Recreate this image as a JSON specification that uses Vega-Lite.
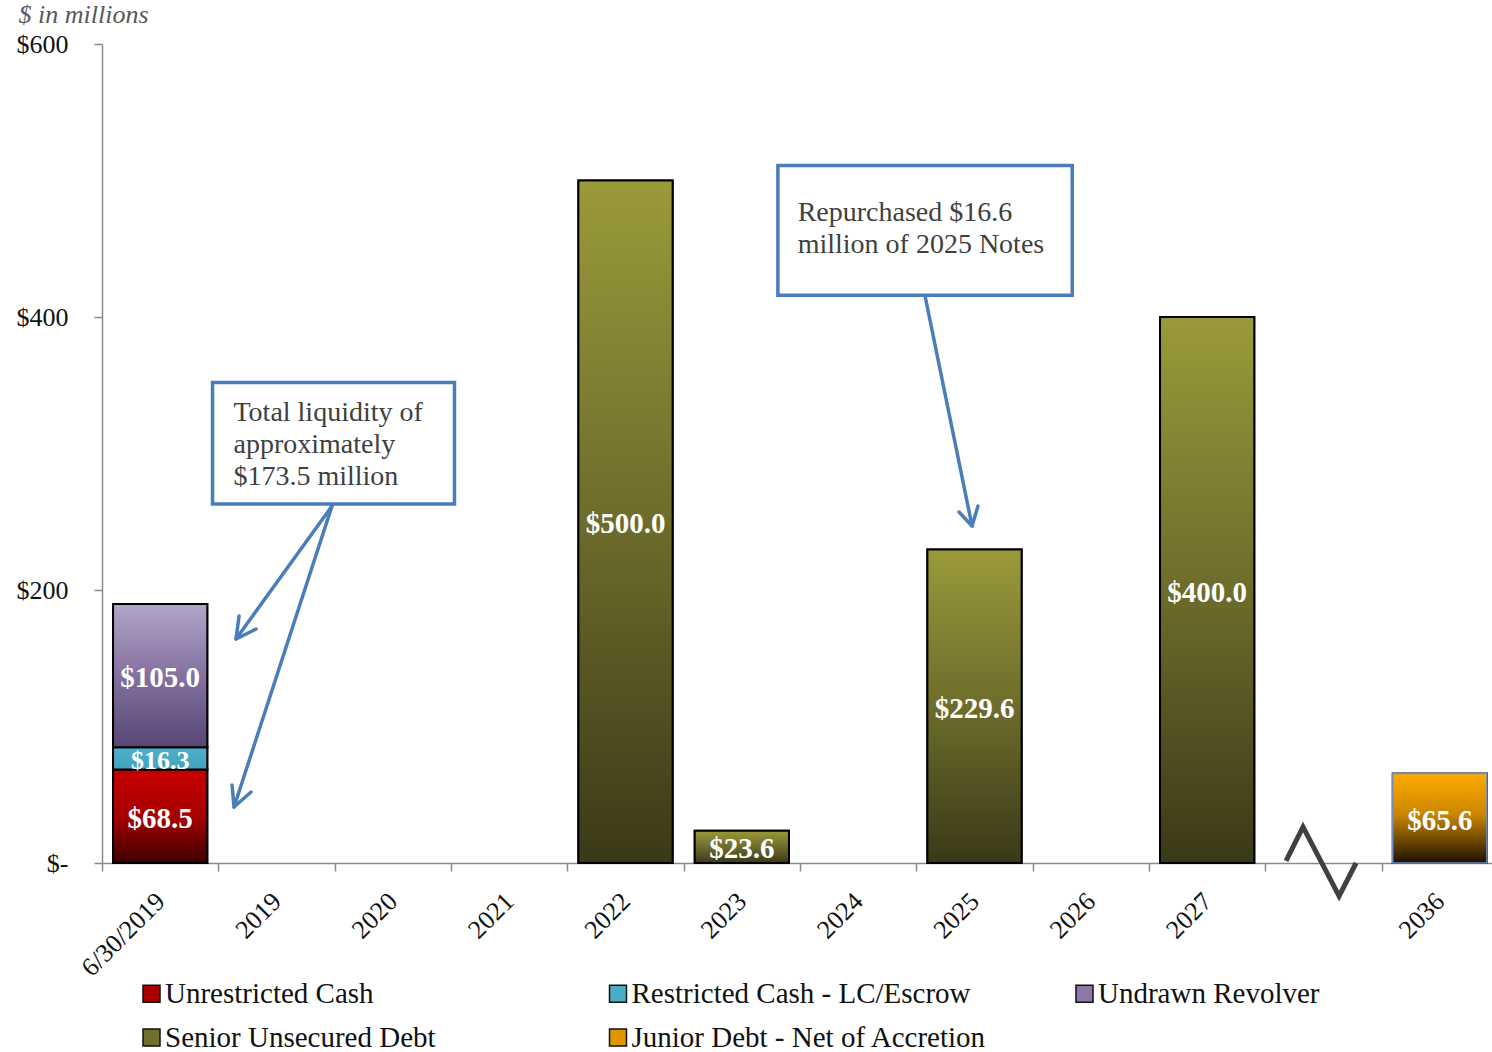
{
  "$schema": "https://vega.github.io/schema/vega-lite/v6.json",
  "width": 1390,
  "height": 819,
  "autosize": {"type": "none"},
  "padding": {"left": 102, "top": 44, "right": 0, "bottom": 189},
  "background": "white",
  "config": {
    "view": {"stroke": null},
    "font": "Liberation Serif"
  },
  "datasets": {
    "debt": [
      {"cat": "6/30/2019", "series": "Unrestricted Cash", "value": 68.5},
      {"cat": "6/30/2019", "series": "Restricted Cash - LC/Escrow", "value": 16.3},
      {"cat": "6/30/2019", "series": "Undrawn Revolver", "value": 105.0},
      {"cat": "2022", "series": "Senior Unsecured Debt", "value": 500.0},
      {"cat": "2023", "series": "Senior Unsecured Debt", "value": 23.6},
      {"cat": "2025", "series": "Senior Unsecured Debt", "value": 229.6},
      {"cat": "2027", "series": "Senior Unsecured Debt", "value": 400.0},
      {"cat": "2036", "series": "Junior Debt - Net of Accretion", "value": 65.6}
    ],
    "boxes": [
      {"u0": 0.95, "u1": 3.03, "v0": 263, "v1": 352},
      {"u0": 5.81, "u1": 8.34, "v0": 416, "v1": 511}
    ],
    "notes": [
      {"u": 1.13, "v": 324, "txt": "Total liquidity of\napproximately\n$173.5 million"},
      {"u": 5.98, "v": 470, "txt": "Repurchased $16.6\nmillion of 2025 Notes"}
    ],
    "arrows": [
      {"path": "a1", "seq": 0, "u": 1.977, "v": 261.5},
      {"path": "a1", "seq": 1, "u": 1.152, "v": 164.1},
      {"path": "h1", "seq": 0, "u": 1.178, "v": 181.0},
      {"path": "h1", "seq": 1, "u": 1.152, "v": 164.1},
      {"path": "h1", "seq": 2, "u": 1.324, "v": 171.4},
      {"path": "a2", "seq": 0, "u": 1.977, "v": 261.5},
      {"path": "a2", "seq": 1, "u": 1.135, "v": 41.0},
      {"path": "h2", "seq": 0, "u": 1.118, "v": 57.1},
      {"path": "h2", "seq": 1, "u": 1.135, "v": 41.0},
      {"path": "h2", "seq": 2, "u": 1.281, "v": 52.0},
      {"path": "a3", "seq": 0, "u": 7.075, "v": 415.4},
      {"path": "a3", "seq": 1, "u": 7.479, "v": 246.9},
      {"path": "h3", "seq": 0, "u": 7.367, "v": 257.1},
      {"path": "h3", "seq": 1, "u": 7.479, "v": 246.9},
      {"path": "h3", "seq": 2, "u": 7.530, "v": 261.5}
    ],
    "breakmark": [
      {"seq": 0, "u": 10.178, "v": 1.5},
      {"seq": 1, "u": 10.324, "v": 26.4},
      {"seq": 2, "u": 10.634, "v": -24.2},
      {"seq": 3, "u": 10.780, "v": 0}
    ]
  },
  "layer": [
    {
      "data": {"name": "debt"},
      "transform": [
        {"calculate": "indexof(['Unrestricted Cash','Restricted Cash - LC/Escrow','Undrawn Revolver','Senior Unsecured Debt','Junior Debt - Net of Accretion'], datum.series)", "as": "k"},
        {"stack": "value", "groupby": ["cat"], "sort": [{"field": "k", "order": "ascending"}], "as": ["v0", "v1"]}
      ],
      "mark": {"type": "bar", "stroke": "black", "strokeWidth": 2},
      "encoding": {
        "x": {
          "field": "cat",
          "type": "nominal",
          "sort": null,
          "scale": {
            "domain": ["6/30/2019", "2019", "2020", "2021", "2022", "2023", "2024", "2025", "2026", "2027", " ", "2036"],
            "range": [0, 1396],
            "paddingInner": 0.19,
            "paddingOuter": 0.095
          },
          "axis": {
            "title": null,
            "bandPosition": 0,
            "tickOffset": -11.05,
            "labelOffset": 11.05,
            "labelAngle": -45,
            "labelAlign": "right",
            "labelBaseline": "middle",
            "labelFont": "Liberation Serif",
            "labelFontSize": 26,
            "labelColor": "#111111",
            "labelPadding": 26,
            "tickSize": 8,
            "tickWidth": 1.5,
            "tickColor": "#8a8a8a",
            "domainColor": "#8a8a8a",
            "domainWidth": 1.5,
            "grid": false
          }
        },
        "y": {
          "field": "v1",
          "type": "quantitative",
          "scale": {"domain": [0, 600], "nice": false},
          "axis": {
            "values": [0, 200, 400, 600],
            "labelExpr": "datum.value == 0 ? '$-' : '$' + datum.value",
            "title": "$ in millions",
            "titleAngle": 0,
            "titleAlign": "left",
            "titleBaseline": "alphabetic",
            "titleX": -84,
            "titleY": -22,
            "titleFont": "Liberation Serif",
            "titleFontStyle": "italic",
            "titleFontWeight": "normal",
            "titleFontSize": 26,
            "titleColor": "#595959",
            "labelFont": "Liberation Serif",
            "labelFontSize": 26,
            "labelColor": "#111111",
            "labelPadding": 26,
            "tickSize": 8,
            "tickWidth": 1.5,
            "tickColor": "#8a8a8a",
            "domainColor": "#8a8a8a",
            "domainWidth": 1.5,
            "grid": false
          }
        },
        "y2": {"field": "v0"},
        "color": {
          "field": "series",
          "type": "nominal",
          "scale": {
            "domain": ["Unrestricted Cash", "Restricted Cash - LC/Escrow", "Undrawn Revolver", "Senior Unsecured Debt", "Junior Debt - Net of Accretion"],
            "range": ["#a80000", "#4bacc6", "#8a78a8", "#70702c", "#e09400"]
          },
          "legend": {
            "title": null,
            "orient": "none",
            "direction": "horizontal",
            "legendX": 35,
            "legendY": 935,
            "columns": 3,
            "gridAlign": "all",
            "columnPadding": 82.5,
            "rowPadding": 14,
            "symbolType": "square",
            "symbolSize": 289,
            "symbolStrokeColor": "#111111",
            "symbolStrokeWidth": 1.5,
            "symbolOpacity": 1,
            "labelFont": "Liberation Serif",
            "labelFontSize": 29,
            "labelColor": "#111111",
            "labelOffset": -1,
            "labelLimit": 600
          }
        }
      }
    },
    {
      "data": {"name": "debt"},
      "transform": [
        {"calculate": "indexof(['Unrestricted Cash','Restricted Cash - LC/Escrow','Undrawn Revolver','Senior Unsecured Debt','Junior Debt - Net of Accretion'], datum.series)", "as": "k"},
        {"stack": "value", "groupby": ["cat"], "sort": [{"field": "k", "order": "ascending"}], "as": ["v0", "v1"]}
      ],
      "mark": {"type": "bar"},
      "encoding": {
        "x": {
          "field": "cat",
          "type": "nominal",
          "sort": null,
          "scale": {
            "domain": ["6/30/2019", "2019", "2020", "2021", "2022", "2023", "2024", "2025", "2026", "2027", " ", "2036"],
            "range": [0, 1396],
            "paddingInner": 0.19,
            "paddingOuter": 0.095
          },
          "axis": null
        },
        "y": {"field": "v1", "type": "quantitative", "scale": {"domain": [0, 600], "nice": false}},
        "y2": {"field": "v0"},
        "fill": {
          "condition": [
            {"test": "datum.series === 'Unrestricted Cash'", "value": {"gradient": "linear", "x1": 0, "y1": 0, "x2": 0, "y2": 1, "stops": [{"offset": 0, "color": "#c60000"}, {"offset": 0.5, "color": "#a80000"}, {"offset": 1, "color": "#3c0000"}]}},
            {"test": "datum.series === 'Restricted Cash - LC/Escrow'", "value": {"gradient": "linear", "x1": 0, "y1": 0, "x2": 0, "y2": 1, "stops": [{"offset": 0, "color": "#4db0ca"}, {"offset": 1, "color": "#43a3bd"}]}},
            {"test": "datum.series === 'Undrawn Revolver'", "value": {"gradient": "linear", "x1": 0, "y1": 0, "x2": 0, "y2": 1, "stops": [{"offset": 0, "color": "#b4a4ca"}, {"offset": 0.5, "color": "#84719f"}, {"offset": 1, "color": "#584676"}]}},
            {"test": "datum.series === 'Senior Unsecured Debt'", "value": {"gradient": "linear", "x1": 0, "y1": 0, "x2": 0, "y2": 1, "stops": [{"offset": 0, "color": "#9a9a3a"}, {"offset": 0.5, "color": "#6d6c2c"}, {"offset": 1, "color": "#3a3917"}]}},
            {"test": "datum.series === 'Junior Debt - Net of Accretion'", "value": {"gradient": "linear", "x1": 0, "y1": 0, "x2": 0, "y2": 1, "stops": [{"offset": 0, "color": "#ffab00"}, {"offset": 0.45, "color": "#cc8700"}, {"offset": 1, "color": "#1e1100"}]}}
          ],
          "value": "#888888"
        },
        "stroke": {
          "condition": {"test": "datum.series === 'Junior Debt - Net of Accretion'", "value": "#6f8fc4"},
          "value": "#000000"
        },
        "strokeWidth": {
          "condition": {"test": "datum.series === 'Junior Debt - Net of Accretion'", "value": 1.5},
          "value": 2
        }
      }
    },
    {
      "data": {"name": "debt"},
      "transform": [
        {"calculate": "indexof(['Unrestricted Cash','Restricted Cash - LC/Escrow','Undrawn Revolver','Senior Unsecured Debt','Junior Debt - Net of Accretion'], datum.series)", "as": "k"},
        {"stack": "value", "groupby": ["cat"], "sort": [{"field": "k", "order": "ascending"}], "as": ["v0", "v1"]},
        {"calculate": "(datum.v0 + datum.v1) / 2", "as": "vmid"}
      ],
      "mark": {"type": "text", "color": "white", "fontWeight": "bold", "font": "Liberation Serif", "baseline": "middle", "align": "center", "dy": 2.5},
      "encoding": {
        "x": {
          "field": "cat",
          "type": "nominal",
          "sort": null,
          "scale": {
            "domain": ["6/30/2019", "2019", "2020", "2021", "2022", "2023", "2024", "2025", "2026", "2027", " ", "2036"],
            "range": [0, 1396],
            "paddingInner": 0.19,
            "paddingOuter": 0.095
          },
          "axis": null
        },
        "y": {"field": "vmid", "type": "quantitative", "scale": {"domain": [0, 600], "nice": false}},
        "text": {"field": "value", "type": "quantitative", "format": "$.1f"},
        "size": {
          "condition": {"test": "datum.value < 20", "value": 26},
          "value": 29
        }
      }
    },
    {
      "data": {"name": "breakmark"},
      "mark": {"type": "line", "stroke": "#404040", "strokeWidth": 5, "strokeJoin": "miter"},
      "encoding": {
        "x": {"field": "u", "type": "quantitative", "scale": {"domain": [0, 12], "range": [0, 1396], "nice": false, "zero": false}, "axis": null},
        "y": {"field": "v", "type": "quantitative", "scale": {"domain": [0, 600], "nice": false}},
        "order": {"field": "seq", "type": "quantitative"}
      }
    },
    {
      "data": {"name": "boxes"},
      "mark": {"type": "rect", "fill": "white", "stroke": "#4a7ebb", "strokeWidth": 3.5},
      "encoding": {
        "x": {"field": "u0", "type": "quantitative", "scale": {"domain": [0, 12], "range": [0, 1396], "nice": false, "zero": false}, "axis": null},
        "x2": {"field": "u1"},
        "y": {"field": "v0", "type": "quantitative", "scale": {"domain": [0, 600], "nice": false}},
        "y2": {"field": "v1"}
      }
    },
    {
      "data": {"name": "notes"},
      "mark": {"type": "text", "align": "left", "baseline": "alphabetic", "lineBreak": "\n", "lineHeight": 32, "fontSize": 28, "font": "Liberation Serif", "color": "#3f3f3f"},
      "encoding": {
        "x": {"field": "u", "type": "quantitative", "scale": {"domain": [0, 12], "range": [0, 1396], "nice": false, "zero": false}, "axis": null},
        "y": {"field": "v", "type": "quantitative", "scale": {"domain": [0, 600], "nice": false}},
        "text": {"field": "txt", "type": "nominal"}
      }
    },
    {
      "data": {"name": "arrows"},
      "mark": {"type": "line", "stroke": "#4a7ebb", "strokeWidth": 3.5, "strokeCap": "round", "strokeJoin": "round"},
      "encoding": {
        "x": {"field": "u", "type": "quantitative", "scale": {"domain": [0, 12], "range": [0, 1396], "nice": false, "zero": false}, "axis": null},
        "y": {"field": "v", "type": "quantitative", "scale": {"domain": [0, 600], "nice": false}},
        "detail": {"field": "path", "type": "nominal"},
        "order": {"field": "seq", "type": "quantitative"}
      }
    }
  ],
  "resolve": {"scale": {"x": "independent"}}
}
